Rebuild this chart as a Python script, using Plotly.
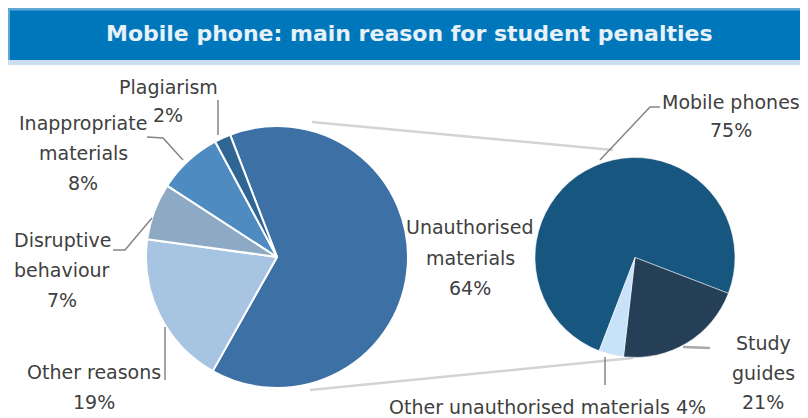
import plotly.graph_objects as go

# ---------------- data ----------------
title_text = "Mobile phone: main reason for student penalties"

left_labels = ["Unauthorised materials", "Other reasons", "Disruptive behaviour",
               "Inappropriate materials", "Plagiarism"]
left_values = [64, 19, 7, 8, 2]
left_colors = ["#3D70A5", "#A7C5E2", "#8EA9C4", "#4D8BC0", "#2E6592"]

right_labels = ["Mobile phones", "Study guides", "Other unauthorised materials"]
right_values = [75, 21, 4]
right_colors = ["#17577F", "#253F57", "#C8E2F7"]

# how each label is broken into lines for display
left_breaks = [["Unauthorised", "materials"], ["Other reasons"], ["Disruptive", "behaviour"],
               ["Inappropriate", "materials"], ["Plagiarism"]]
right_breaks = [["Mobile phones"], ["Study", "guides"], None]  # None -> single line with value

# ---------------- layout helpers ----------------
# the page body has an 8px margin, so the figure is 800x410 placed at (8, 8)
OFF = 8
W, H = 800, 410


def px(x):
    return (x - OFF) / W


def py(y):
    return 1 - (y - OFF) / H


fig = go.Figure()

fig.add_trace(go.Pie(
    labels=left_labels, values=left_values, sort=False, direction="clockwise",
    rotation=-21, textinfo="none", hoverinfo="label+percent",
    marker=dict(colors=left_colors, line=dict(color="white", width=2)),
    domain=dict(x=[px(146), px(408)], y=[py(388), py(126)]),
    showlegend=False,
))
fig.add_trace(go.Pie(
    labels=right_labels, values=right_values, sort=False, direction="clockwise",
    rotation=201, textinfo="none", hoverinfo="label+percent",
    marker=dict(colors=right_colors, line=dict(color="white", width=0.5)),
    domain=dict(x=[px(535), px(735)], y=[py(358), py(157)]),
    showlegend=False,
))

shapes = []
# title bar
shapes.append(dict(type="rect", xref="paper", yref="paper", x0=px(8), x1=1.0, y0=py(65), y1=py(8),
                   fillcolor="#C9DFEE", line=dict(width=0), layer="below"))
shapes.append(dict(type="rect", xref="paper", yref="paper", x0=px(8), x1=1.0, y0=py(60), y1=py(8),
                   fillcolor="#5FA8D5", line=dict(width=0), layer="below"))
shapes.append(dict(type="rect", xref="paper", yref="paper", x0=px(10), x1=1.0, y0=py(60), y1=py(10.5),
                   fillcolor="#0077BB", line=dict(width=0), layer="below"))

# connectors between pies
for (x0, y0, x1, y1) in [(312, 122, 613, 150), (310, 390, 633, 358)]:
    shapes.append(dict(type="line", xref="paper", yref="paper", x0=px(x0), y0=py(y0), x1=px(x1), y1=py(y1),
                       line=dict(color="#D3D3D3", width=2.5), layer="below"))

# leader lines
leaders = [
    [(218, 100), (218, 135)],
    [(147, 137), (163, 138), (183, 160)],
    [(113, 250), (125, 250), (152, 218)],
    [(165, 327), (165, 380)],
    [(660, 107), (650, 107), (600, 160)],
    [(605, 357), (605, 385)],
]
for pts in leaders:
    path = "M " + " L ".join(f"{px(x)},{py(y)}" for x, y in pts)
    shapes.append(dict(type="path", xref="paper", yref="paper", path=path,
                       line=dict(color="#858585", width=1.5)))
shapes.append(dict(type="line", xref="paper", yref="paper", x0=px(683), y0=py(347), x1=px(710), y1=py(348),
                   line=dict(color="#A8A8A8", width=2.5)))

# label placements: (center x, first line y, line spacing)
left_pos = [(470, 227, 30.5), (94, 372, 30), (62, 240, 30), (83, 123, 30), (168, 87, 28)]
right_pos = [(731, 102, 28), (763, 343, 29.5), (547, 407, 0)]

annotations = [dict(text=f"<b>{title_text}</b>", xref="paper", yref="paper", x=px(410), y=py(33),
                    showarrow=False, font=dict(family="DejaVu Sans", size=22, color="#E6F1F9"),
                    xanchor="center", yanchor="middle")]

lab_font = dict(family="DejaVu Sans", size=19, color="#404040")


def add_label_lines(lines, pos):
    cx, cy, sp = pos
    for i, t in enumerate(lines):
        annotations.append(dict(text=t, xref="paper", yref="paper", x=px(cx), y=py(cy + i * sp),
                                showarrow=False, font=lab_font, xanchor="center", yanchor="middle"))


for brk, val, pos in zip(left_breaks, left_values, left_pos):
    add_label_lines(brk + [f"{val}%"], pos)
for lab, brk, val, pos in zip(right_labels, right_breaks, right_values, right_pos):
    if brk is None:
        add_label_lines([f"{lab} {val}%"], pos)
    else:
        add_label_lines(brk + [f"{val}%"], pos)

fig.update_layout(
    width=W, height=H, margin=dict(l=0, r=0, t=0, b=0),
    paper_bgcolor="white", plot_bgcolor="white",
    shapes=shapes, annotations=annotations,
)

fig.write_html("out.html")
